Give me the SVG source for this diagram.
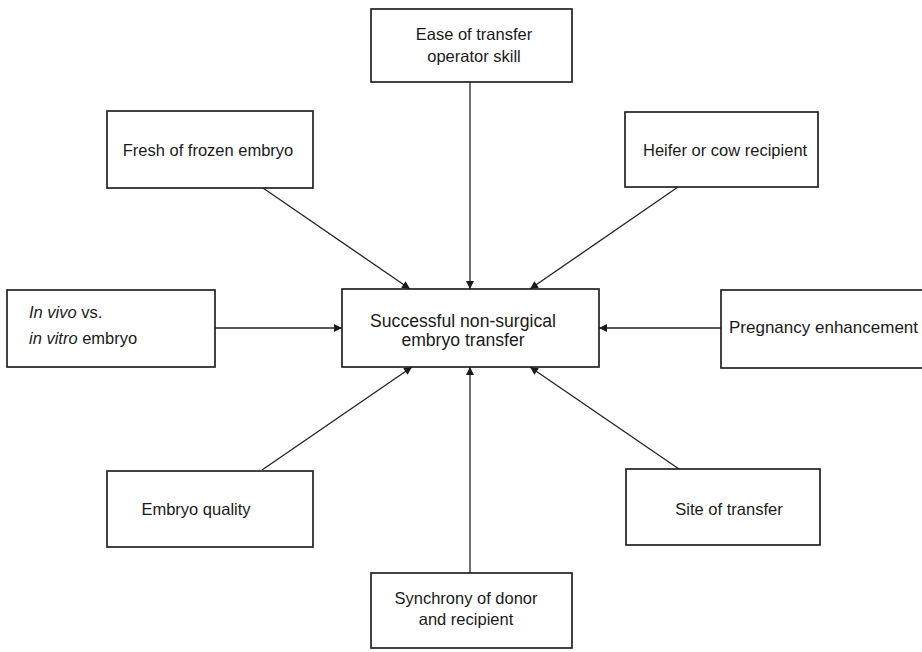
<svg xmlns="http://www.w3.org/2000/svg" width="922" height="652" viewBox="0 0 922 652">
<defs>
<style>
.box{fill:#fff;stroke:#222;stroke-width:1.7}
.t{font-family:"Liberation Sans",Arial,sans-serif;font-size:16.5px;fill:#1a1a1a}
.big{font-size:17.6px}
.m{text-anchor:middle}
.c{stroke:#222;stroke-width:1.3;fill:none;marker-end:url(#ah)}
</style>
<marker id="ah" viewBox="0 0 10 10" refX="10" refY="5" markerWidth="11" markerHeight="8" markerUnits="userSpaceOnUse" orient="auto">
<path d="M0,0 L10,5 L0,10 z" fill="#1a1a1a"/>
</marker>
</defs>
<rect width="922" height="652" fill="#fff"/>
<g id="connectors">
<line class="c" x1="470" y1="82" x2="470" y2="289"/>
<line class="c" x1="263" y1="188" x2="410" y2="289"/>
<line class="c" x1="678" y1="187" x2="530" y2="289"/>
<line class="c" x1="215" y1="328" x2="342" y2="328"/>
<line class="c" x1="721" y1="328" x2="599" y2="328"/>
<line class="c" x1="262" y1="470" x2="412" y2="367"/>
<line class="c" x1="679" y1="469" x2="530" y2="367"/>
<line class="c" x1="470" y1="573" x2="470" y2="367"/>
</g>
<g id="center">
<rect class="box" x="342" y="289" width="257" height="78"/>
<text class="t big m" x="463" y="327">Successful non-surgical</text>
<text class="t big m" x="463" y="346">embryo transfer</text>
</g>
<g id="ease">
<rect class="box" x="371" y="9" width="201" height="73"/>
<text class="t m" x="474" y="40">Ease of transfer</text>
<text class="t m" x="474" y="62">operator skill</text>
</g>
<g id="fresh">
<rect class="box" x="107" y="111" width="206" height="77"/>
<text class="t m" x="208" y="156">Fresh of frozen embryo</text>
</g>
<g id="heifer">
<rect class="box" x="625" y="112" width="193" height="75"/>
<text class="t" x="643" y="156">Heifer or cow recipient</text>
</g>
<g id="invivo">
<rect class="box" x="7" y="290" width="208" height="77"/>
<text class="t" x="29" y="318"><tspan font-style="italic">In vivo</tspan> vs.</text>
<text class="t" x="29" y="344"><tspan font-style="italic">in vitro</tspan> embryo</text>
</g>
<g id="pregnancy">
<rect class="box" x="721" y="290" width="210" height="78"/>
<text class="t" x="729" y="333" style="font-size:17px">Pregnancy enhancement</text>
</g>
<g id="quality">
<rect class="box" x="107" y="471" width="206" height="76"/>
<text class="t m" x="196" y="515">Embryo quality</text>
</g>
<g id="site">
<rect class="box" x="626" y="469" width="194" height="76"/>
<text class="t m" x="729" y="515">Site of transfer</text>
</g>
<g id="synchrony">
<rect class="box" x="371" y="573" width="201" height="75"/>
<text class="t m" x="466" y="604">Synchrony of donor</text>
<text class="t m" x="466" y="625">and recipient</text>
</g>
</svg>
